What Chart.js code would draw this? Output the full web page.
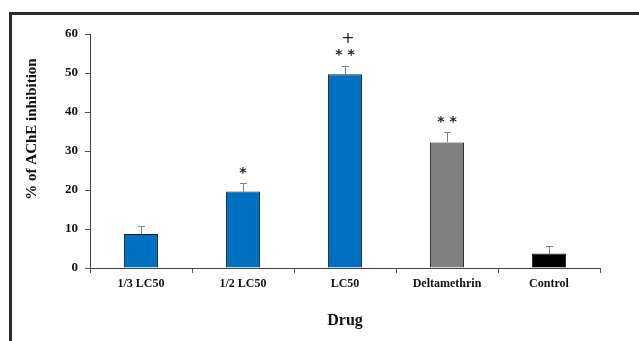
<!DOCTYPE html>
<html>
<head>
<meta charset="utf-8">
<style>
  html, body { margin: 0; padding: 0; background: #fff; }
  #wrap { width: 639px; height: 341px; position: relative; }
</style>
<script src="https://cdn.jsdelivr.net/npm/chart.js@4/dist/chart.umd.min.js"></script>
</head>
<body>
<div id="wrap"><canvas id="c" width="639" height="341"></canvas></div>
<script>
const categories = ["1/3 LC50", "1/2 LC50", "LC50", "Deltamethrin", "Control"];
const inhibition = [8.7, 19.6, 49.7, 32.2, 3.7];
const errors = [2.1, 2.1, 2.2, 2.6, 1.9];
const annotations = [[], ["*"], ["**", "+"], ["**"], []];
const barColors = ["#0070C0", "#0070C0", "#0070C0", "#808080", "#000000"];
const yTicks = [0, 10, 20, 30, 40, 50, 60];
const yTitle = "% of AChE inhibition";
const xTitle = "Drug";

const FONT = "'Liberation Serif', 'Times New Roman', serif";

const framePlugin = {
  id: 'frame',
  beforeDraw(chart) {
    const ctx = chart.ctx;
    ctx.save();
    ctx.fillStyle = '#2b2b2b';
    ctx.fillRect(9, 12, 630, 3);
    ctx.fillRect(9, 12, 3, 329);
    ctx.restore();
  },
  afterDraw(chart) {
    const ctx = chart.ctx;
    ctx.save();
    ctx.translate(32, 129);
    ctx.rotate(-Math.PI / 2);
    ctx.fillStyle = '#111';
    ctx.font = "bold 15px " + FONT;
    ctx.textAlign = 'center';
    ctx.textBaseline = 'middle';
    ctx.fillText(yTitle, 0, 0);
    ctx.restore();
  }
};

const errorPlugin = {
  id: 'errbars',
  afterDatasetsDraw(chart) {
    const ctx = chart.ctx;
    const meta = chart.getDatasetMeta(0);
    const y = chart.scales.y;
    ctx.save();
    meta.data.forEach((bar, i) => {
      const x = bar.x;
      const top = y.getPixelForValue(inhibition[i]);
      const etop = y.getPixelForValue(inhibition[i] + errors[i]);
      ctx.strokeStyle = '#808080';
      ctx.lineWidth = 1;
      ctx.beginPath();
      ctx.moveTo(Math.round(x) + 0.5, top);
      ctx.lineTo(Math.round(x) + 0.5, etop);
      ctx.moveTo(Math.round(x) - 3, Math.round(etop) + 0.5);
      ctx.lineTo(Math.round(x) + 4, Math.round(etop) + 0.5);
      ctx.stroke();
      ctx.fillStyle = '#222';
      ctx.textAlign = 'center';
      ctx.textBaseline = 'middle';
      annotations[i].forEach((txt) => {
        if (txt === '+') {
          ctx.font = "16px 'DejaVu Sans', sans-serif";
          ctx.fillText(txt, x + 3, etop - 27);
        } else {
          ctx.font = "bold 14px 'DejaVu Sans', sans-serif";
          ctx.fillText(txt.split('').join(' '), x, etop - 10);
        }
      });
    });
    ctx.restore();
  }
};

new Chart(document.getElementById('c'), {
  type: 'bar',
  data: {
    labels: categories,
    datasets: [{
      data: inhibition,
      backgroundColor: barColors,
      borderColor: '#1a1a1a',
      borderWidth: 1,
      borderSkipped: 'bottom',
      barPercentage: 1,
      categoryPercentage: 0.335
    }]
  },
  options: {
    responsive: false,
    animation: false,
    layout: { padding: { top: 34, right: 39, left: 0, bottom: 0 } },
    plugins: { legend: { display: false }, tooltip: { enabled: false } },
    scales: {
      x: {
        grid: { display: true, drawOnChartArea: false, drawTicks: true, tickLength: 5, color: '#555', offset: true },
        border: { display: true, color: '#404040', width: 1 },
        ticks: { color: '#111', font: { family: FONT, size: 12, weight: 'bold' }, padding: 4, maxRotation: 0 },
        title: { display: true, text: xTitle, color: '#111', font: { family: FONT, size: 16, weight: 'bold' }, padding: { top: 0, bottom: 11 } },
        afterFit(scale) { scale.height = 73; }
      },
      y: {
        min: 0, max: 60,
        afterBuildTicks(scale) { scale.ticks = yTicks.map(v => ({ value: v })); },
        grid: { display: true, drawOnChartArea: false, drawTicks: true, tickLength: 5, color: '#555' },
        border: { display: true, color: '#404040', width: 1 },
        ticks: { color: '#111', font: { family: FONT, size: 13, weight: 'bold' }, padding: 7 },
        afterFit(scale) { scale.width = 90; }
      }
    }
  },
  plugins: [framePlugin, errorPlugin]
});
</script>
</body>
</html>
